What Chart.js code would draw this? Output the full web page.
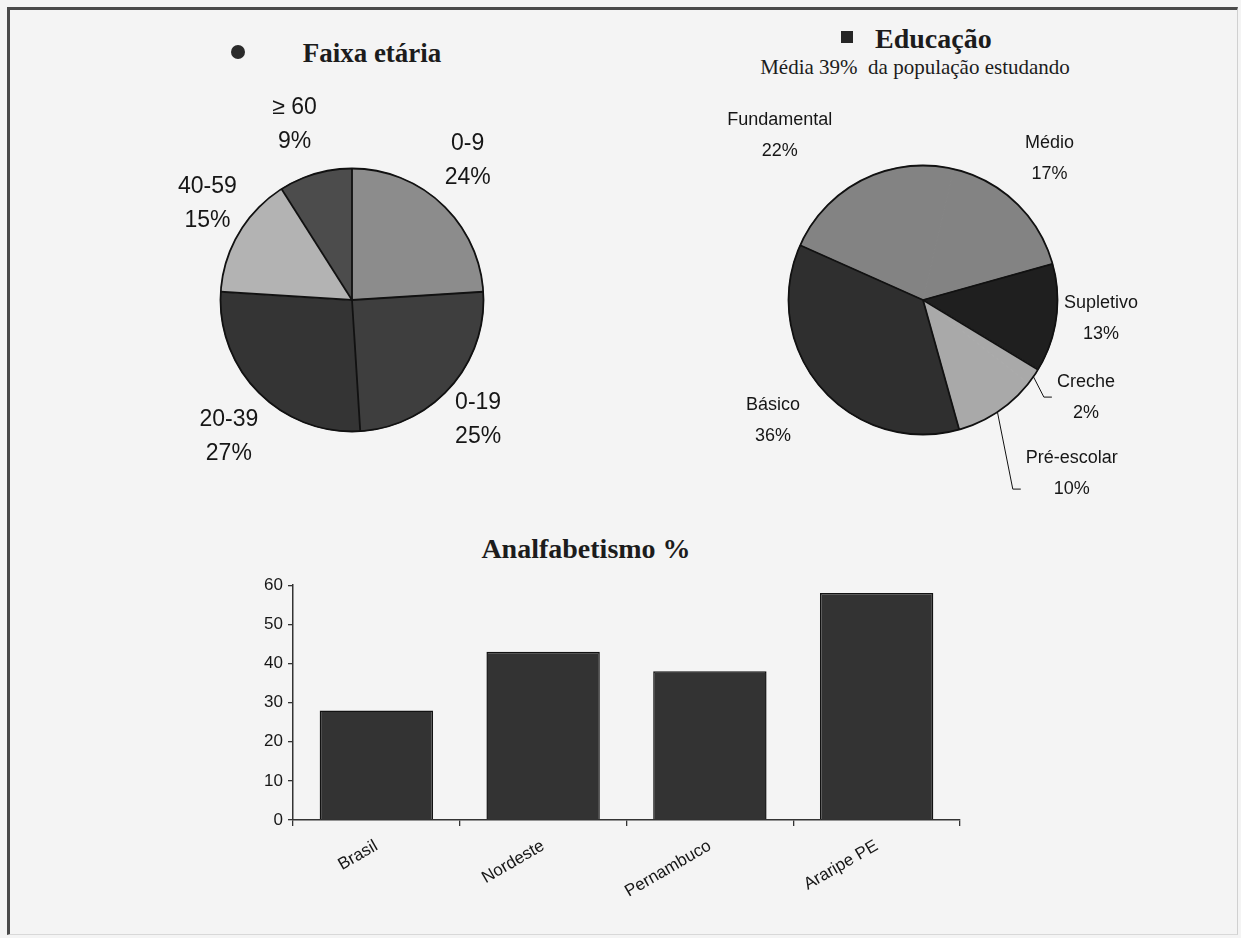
<!DOCTYPE html>
<html>
<head>
  <meta charset="utf-8">
  <title>Faixa etária, Educação e Analfabetismo</title>
  <script src="https://cdn.jsdelivr.net/npm/chart.js"></script>
  <style>
    html, body { margin: 0; padding: 0; }
    body {
      width: 1241px; height: 938px; position: relative; overflow: hidden;
      background: #f4f4f4; color: #1c1c1c;
      font-family: "Liberation Sans", Arial, sans-serif;
    }
    .frame {
      position: absolute; left: 7px; top: 7px; width: 1231px; height: 928px; box-sizing: border-box;
      border-top: 3px solid #4a4a4a; border-left: 3px solid #4a4a4a;
      border-right: 1px solid #d0d0d0; border-bottom: 1px solid #d8d8d8;
    }
    .title {
      position: absolute; white-space: pre; line-height: 1;
      font-family: "Liberation Serif", "Times New Roman", serif; font-weight: bold;
    }
    .dot { position: absolute; left: 231px; top: 45px; width: 14px; height: 14px; border-radius: 50%; background: #2a2a2a; }
    .square { position: absolute; left: 841px; top: 31px; width: 12px; height: 12px; background: #262626; }
    canvas { position: absolute; }
  </style>
</head>
<body>
  <div class="frame"></div>

  <div class="dot"></div>
  <div class="title" style="left:372px; top:40px; font-size:27px; transform:translateX(-50%)">Faixa etária</div>

  <div class="square"></div>
  <div class="title" style="left:875px; top:25px; font-size:28px">Educação</div>
  <div class="title" style="left:915px; top:57px; font-size:21px; font-weight:normal; transform:translateX(-50%)">Média 39%  da população estudando</div>

  <div class="title" style="left:586px; top:535px; font-size:28px; transform:translateX(-50%)">Analfabetismo %</div>

  <canvas id="agePie" width="480" height="440" style="left:112px; top:80px"></canvas>
  <canvas id="eduPie" width="480" height="440" style="left:683px; top:80px"></canvas>
  <canvas id="bars" width="767" height="350" style="left:213px; top:570px"></canvas>

  <script>
    // age groups (%)
    const faixaLabels = ['0-9', '0-19', '20-39', '40-59', '≥ 60'];
    const faixaValues = [24, 25, 27, 15, 9];

    // education level of the population studying (%)
    const eduLabels = ['Fundamental', 'Médio', 'Supletivo', 'Creche', 'Pré-escolar', 'Básico'];
    const eduValues = [22, 17, 13, 2, 10, 36];

    // illiteracy (%)
    const regions = ['Brasil', 'Nordeste', 'Pernambuco', 'Araripe PE'];
    const illiteracy = [28, 43, 38, 58];

    Chart.defaults.font.family = '"Liberation Sans", Arial, sans-serif';
    Chart.defaults.color = '#161616';

    const ageColors = ['#8c8c8c', '#3e3e3e', '#343434', '#b3b3b3', '#4c4c4c'];
    const eduColors = ['#838383', '#838383', '#1f1f1f', '#a9a9a9', '#a9a9a9', '#2f2f2f'];

    // outline, slice edges and outside labels for the pies
    const pieLabels = {
      id: 'pieLabels',
      afterDatasetsDraw(chart, args, opts) {
        const ctx = chart.ctx;
        const arcs = chart.getDatasetMeta(0).data;
        const labels = chart.data.labels;
        const values = chart.data.datasets[0].data;
        ctx.save();
        ctx.strokeStyle = '#111';
        ctx.lineWidth = 1.8;
        const a0 = arcs[0];
        ctx.beginPath();
        ctx.arc(a0.x, a0.y, a0.outerRadius, 0, Math.PI * 2);
        ctx.stroke();
        arcs.forEach((arc, i) => {
          if (opts.edges && !opts.edges[i]) return;
          ctx.beginPath();
          ctx.moveTo(arc.x, arc.y);
          ctx.lineTo(arc.x + arc.outerRadius * Math.cos(arc.startAngle),
                     arc.y + arc.outerRadius * Math.sin(arc.startAngle));
          ctx.stroke();
        });

        ctx.font = opts.font;
        ctx.fillStyle = '#161616';
        ctx.textAlign = 'center';
        ctx.textBaseline = 'middle';
        arcs.forEach((arc, i) => {
          const mid = (arc.startAngle + arc.endAngle) / 2;
          const ang = mid + (opts.nudge[i] || 0) * Math.PI / 180;
          const d = arc.outerRadius * opts.dist[i];
          const lx = arc.x + d * Math.cos(ang);
          const ly = arc.y + d * Math.sin(ang);
          const l1 = labels[i], l2 = values[i] + '%';
          ctx.fillText(l1, lx, ly - opts.gap / 2);
          ctx.fillText(l2, lx, ly + opts.gap / 2);

          if (opts.leaders && opts.leaders[i] != null) {
            const w = Math.max(ctx.measureText(l1).width, ctx.measureText(l2).width);
            const left = lx - w / 2;
            const yy = ly + opts.leaders[i] * opts.gap;
            ctx.lineWidth = 1;
            ctx.beginPath();
            ctx.moveTo(arc.x + arc.outerRadius * Math.cos(mid), arc.y + arc.outerRadius * Math.sin(mid));
            ctx.lineTo(left - 13, yy);
            ctx.lineTo(left - 5, yy);
            ctx.stroke();
          }
        });
        ctx.restore();
      }
    };

    new Chart(document.getElementById('agePie'), {
      type: 'pie',
      data: {
        labels: faixaLabels,
        datasets: [{
          data: faixaValues,
          backgroundColor: ageColors,
          borderColor: ageColors,
          borderWidth: 1
        }]
      },
      options: {
        responsive: false,
        animation: false,
        rotation: 0,
        layout: { padding: { left: 108, right: 108, top: 88, bottom: 88 } },
        plugins: {
          legend: { display: false },
          tooltip: { enabled: false },
          pieLabels: {
            font: '23px "Liberation Sans", Arial, sans-serif',
            gap: 34,
            dist: [1.38, 1.32, 1.40, 1.32, 1.40],
            nudge: [-3.6, 2, -3, 3, -2]
          }
        }
      },
      plugins: [pieLabels]
    });

    new Chart(document.getElementById('eduPie'), {
      type: 'pie',
      data: {
        labels: eduLabels,
        datasets: [{
          data: eduValues,
          backgroundColor: eduColors,
          borderColor: eduColors,
          borderWidth: 1
        }]
      },
      options: {
        responsive: false,
        animation: false,
        rotation: -66,
        layout: { padding: { left: 105, right: 105, top: 85, bottom: 85 } },
        plugins: {
          legend: { display: false },
          tooltip: { enabled: false },
          pieLabels: {
            font: '18px "Liberation Sans", Arial, sans-serif',
            gap: 31,
            dist: [1.62, 1.41, 1.33, 1.41, 1.70, 1.43],
            nudge: [-14.7, -2, -2, -4, -7, 2],
            edges: [true, false, true, true, false, true],
            leaders: [null, null, null, 0, 0.5, null]
          }
        }
      },
      plugins: [pieLabels]
    });

    new Chart(document.getElementById('bars'), {
      type: 'bar',
      data: {
        labels: regions,
        datasets: [{
          data: illiteracy,
          backgroundColor: '#333333',
          borderColor: '#121212',
          borderWidth: 1.5,
          categoryPercentage: 1,
          barPercentage: 0.68
        }]
      },
      options: {
        responsive: false,
        animation: false,
        layout: { padding: { top: 13, right: 20 } },
        plugins: { legend: { display: false }, tooltip: { enabled: false } },
        scales: {
          y: {
            min: 0, max: 60,
            ticks: { stepSize: 10, padding: 5, color: '#161616', font: { size: 17 } },
            grid: { drawOnChartArea: false, tickLength: 5, color: '#333', lineWidth: 1.3 },
            border: { color: '#333', width: 1.5 },
            afterFit(scale) { scale.width = 80; }
          },
          x: {
            ticks: { minRotation: 30, maxRotation: 30, padding: 10, color: '#161616', font: { size: 17 } },
            grid: { drawOnChartArea: false, offset: true, tickLength: 6, color: '#333', lineWidth: 1.3 },
            border: { color: '#333', width: 1.5 },
            afterFit(scale) { scale.height = 100; }
          }
        }
      }
    });
  </script>
</body>
</html>
